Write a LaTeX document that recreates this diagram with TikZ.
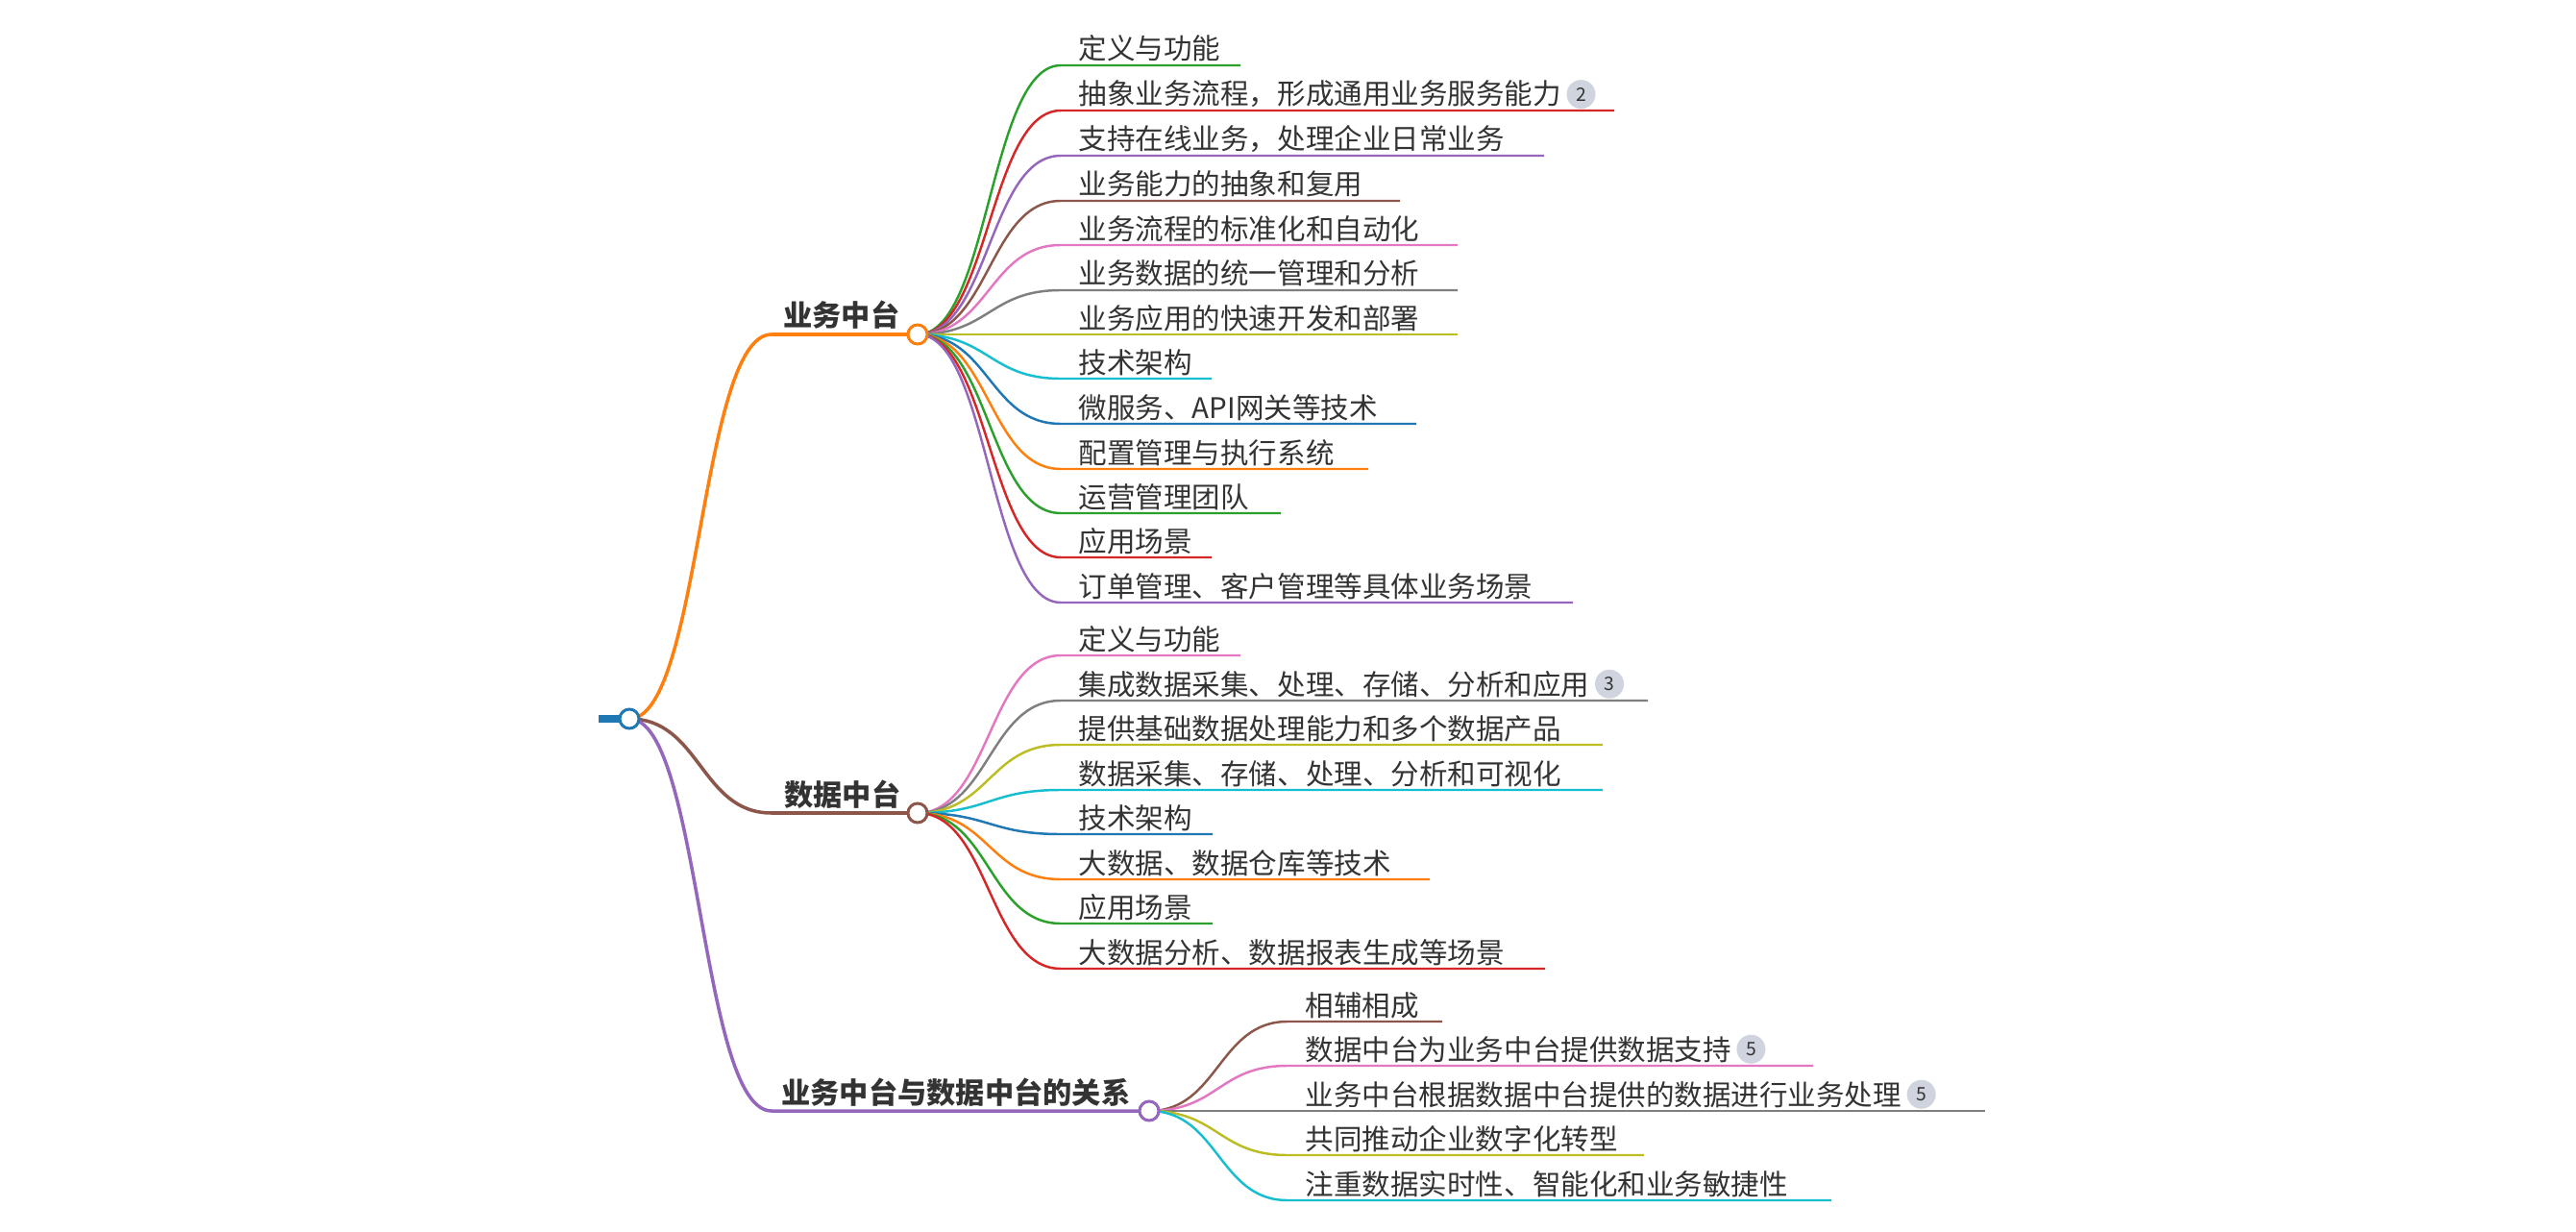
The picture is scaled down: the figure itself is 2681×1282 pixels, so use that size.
\documentclass[tikz,border=0pt]{standalone}
\usepackage{fontspec}
\setmainfont{Noto Sans CJK SC}
\usepackage{tikz}
\usetikzlibrary{positioning,calc}
\definecolor{mmorange}{HTML}{FF7F0E}
\definecolor{mmbrown}{HTML}{8C564B}
\definecolor{mmpurple}{HTML}{9467BD}
\definecolor{mmgreen}{HTML}{2CA02C}
\definecolor{mmred}{HTML}{D62728}
\definecolor{mmpink}{HTML}{E377C2}
\definecolor{mmgray}{HTML}{7F7F7F}
\definecolor{mmolive}{HTML}{BCBD22}
\definecolor{mmcyan}{HTML}{17BECF}
\definecolor{mmblue}{HTML}{1F77B4}
\definecolor{mmtext}{HTML}{333333}
\definecolor{mmbadge}{HTML}{D0D4DE}
\tikzset{
  leafline/.style={line width=0.7pt},
  branchline/.style={line width=1pt},
  leaftext/.style={inner sep=0pt, text=mmtext, font=\fontsize{8.4pt}{10pt}\selectfont},
  branchtext/.style={inner sep=0pt, text=mmtext, font=\bfseries\fontsize{8.6pt}{10pt}\selectfont},
  hub/.style={circle, draw, fill=white, line width=0.85pt, minimum size=0.2cm, inner sep=0pt},
  badge/.style={circle, fill=mmbadge, inner sep=0pt, minimum size=0.3cm, text=mmtext, font=\fontsize{5.5pt}{6pt}\selectfont}
}
\newcommand{\mmleaf}[7]{%
  \coordinate (#2s) at (#3,#4);
  \coordinate (#2e) at (#5,#4);
  \coordinate (#2m) at ($(#1)!0.5!(#2s)$);
  \draw[leafline, #6] (#1) .. controls (#2m |- #1) and (#2m |- #2s) .. (#2s) -- (#2e);
  \node[leaftext, anchor=base west] (#2) at ($(#2s)+(18,-6)$) {#7};
}

\begin{document}
\begin{tikzpicture}[x=0.01cm, y=-0.01cm]
            \useasboundingbox (0,0) rectangle (2681,1282);
            \coordinate (rootc) at (655,748);
            \coordinate (rootbar) at (623,748);
            \coordinate (bizc) at (955,348);
            \coordinate (datac) at (955,846);
            \coordinate (relc) at (1196,1156);
            \coordinate (bizbend) at (803,348);
            \coordinate (databend) at (803,846);
            \coordinate (relbend) at (803,1156);

            \draw[line width=2pt, mmblue] (rootbar) -- (rootc);
            \draw[branchline, mmorange] (rootc) .. controls (729,748) and (729,348) .. (bizbend) -- (bizc);
            \draw[branchline, mmbrown] (rootc) .. controls (729,748) and (729,846) .. (databend) -- (datac);
            \draw[branchline, mmpurple] (rootc) .. controls (729,748) and (729,1156) .. (relbend) -- (relc);

            \node[branchtext, anchor=base east] (biz) at (937,340) {业务中台};
            \node[branchtext, anchor=base east] (data) at (938,838) {数据中台};
            \node[branchtext, anchor=base east] (rel) at (1177,1148) {业务中台与数据中台的关系};

            \mmleaf{bizc}{b1}{1104}{68}{1291}{mmgreen}{定义与功能}
            \mmleaf{bizc}{b2}{1104}{115}{1680}{mmred}{抽象业务流程，形成通用业务服务能力}
            \mmleaf{bizc}{b3}{1104}{162}{1607}{mmpurple}{支持在线业务，处理企业日常业务}
            \mmleaf{bizc}{b4}{1104}{209}{1457}{mmbrown}{业务能力的抽象和复用}
            \mmleaf{bizc}{b5}{1104}{255}{1517}{mmpink}{业务流程的标准化和自动化}
            \mmleaf{bizc}{b6}{1104}{302}{1517}{mmgray}{业务数据的统一管理和分析}
            \mmleaf{bizc}{b7}{1104}{348}{1517}{mmolive}{业务应用的快速开发和部署}
            \mmleaf{bizc}{b8}{1104}{394}{1261}{mmcyan}{技术架构}
            \mmleaf{bizc}{b9}{1104}{441}{1474}{mmblue}{微服务、API网关等技术}
            \mmleaf{bizc}{b10}{1104}{488}{1424}{mmorange}{配置管理与执行系统}
            \mmleaf{bizc}{b11}{1104}{534}{1333}{mmgreen}{运营管理团队}
            \mmleaf{bizc}{b12}{1104}{580}{1261}{mmred}{应用场景}
            \mmleaf{bizc}{b13}{1104}{627}{1637}{mmpurple}{订单管理、客户管理等具体业务场景}

            \mmleaf{datac}{d1}{1104}{682}{1291}{mmpink}{定义与功能}
            \mmleaf{datac}{d2}{1104}{729}{1715}{mmgray}{集成数据采集、处理、存储、分析和应用}
            \mmleaf{datac}{d3}{1104}{775}{1668}{mmolive}{提供基础数据处理能力和多个数据产品}
            \mmleaf{datac}{d4}{1104}{822}{1668}{mmcyan}{数据采集、存储、处理、分析和可视化}
            \mmleaf{datac}{d5}{1104}{868}{1262}{mmblue}{技术架构}
            \mmleaf{datac}{d6}{1104}{915}{1488}{mmorange}{大数据、数据仓库等技术}
            \mmleaf{datac}{d7}{1104}{961}{1262}{mmgreen}{应用场景}
            \mmleaf{datac}{d8}{1104}{1008}{1608}{mmred}{大数据分析、数据报表生成等场景}

            \mmleaf{relc}{r1}{1340}{1063}{1501}{mmbrown}{相辅相成}
            \mmleaf{relc}{r2}{1340}{1109}{1887}{mmpink}{数据中台为业务中台提供数据支持}
            \mmleaf{relc}{r3}{1340}{1156}{2066}{mmgray}{业务中台根据数据中台提供的数据进行业务处理}
            \mmleaf{relc}{r4}{1340}{1202}{1711}{mmolive}{共同推动企业数字化转型}
            \mmleaf{relc}{r5}{1340}{1249}{1906}{mmcyan}{注重数据实时性、智能化和业务敏捷性}

            \node[badge, right=1.2pt of b2] (b2n) {2};
            \node[badge, right=1.2pt of d2] (d2n) {3};
            \node[badge, right=1.2pt of r2] (r2n) {5};
            \node[badge, right=1.2pt of r3] (r3n) {5};

            \node[hub, draw=mmblue] (root) at (rootc) {};
            \node[hub, draw=mmorange] (bizhub) at (bizc) {};
            \node[hub, draw=mmbrown] (datahub) at (datac) {};
            \node[hub, draw=mmpurple] (relhub) at (relc) {};
\end{tikzpicture}
\end{document}
